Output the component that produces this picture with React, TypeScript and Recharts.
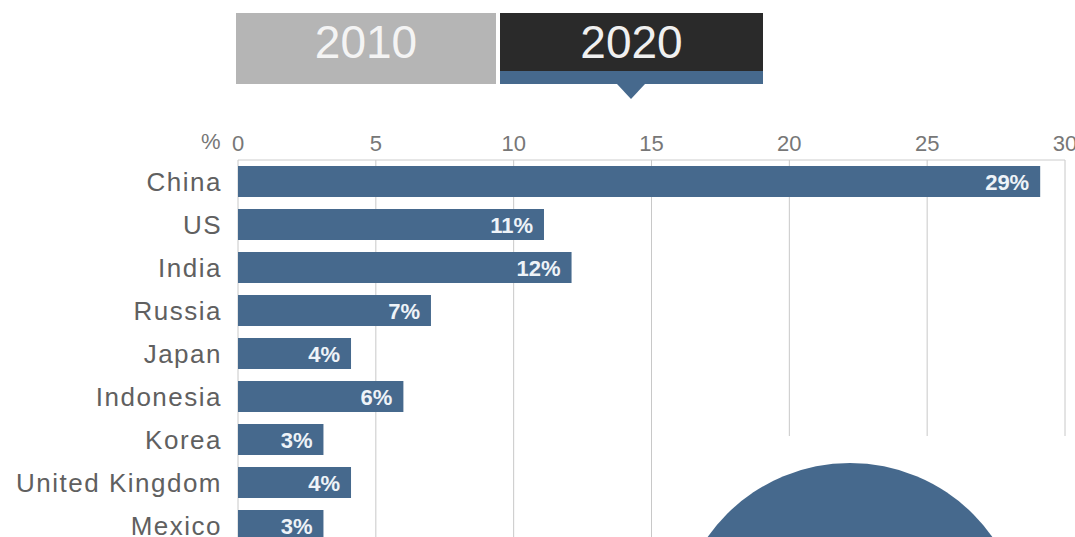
import React from "react";
import { BarChart, Bar, XAxis, YAxis, CartesianGrid, LabelList } from "recharts";

const countries = ["China", "US", "India", "Russia", "Japan", "Indonesia", "Korea", "United Kingdom", "Mexico"];
// bar lengths (%)
const shares = [29.1, 11.1, 12.1, 7.0, 4.1, 6.0, 3.1, 4.1, 3.1];
const shareLabels = ["29%", "11%", "12%", "7%", "4%", "6%", "3%", "4%", "3%"];
const xTicks = [0, 5, 10, 15, 20, 25, 30];
const years = ["2010", "2020"];

const BLUE = "#46698d";
const FONT = "'Liberation Sans', Arial, sans-serif";

const data = countries.map((country, i) => ({
  country,
  share: shares[i],
  label: shareLabels[i],
}));

const BarLabel = (props: any) => {
  const { x, y, width, height, value } = props;
  return (
    <text
      x={x + width - 11}
      y={y + height / 2 + 1}
      textAnchor="end"
      dominantBaseline="central"
      fill="#eef3f8"
      fontSize={22}
      fontWeight="bold"
      fontFamily={FONT}
    >
      {value}
    </text>
  );
};

const App = () => {
  return (
    <div
      style={{
        position: "absolute",
        left: 0,
        top: 0,
        width: 1075,
        height: 537,
        overflow: "hidden",
        background: "#fff",
        fontFamily: FONT,
      }}
    >
      {/* year tabs */}
      <div
        style={{
          position: "absolute", left: 236, top: 13, width: 260, height: 58, paddingBottom: 13,
          background: "#b5b5b5", color: "#f4f4f4", fontSize: 46,
          display: "flex", alignItems: "center", justifyContent: "center",
        }}
      >
        {years[0]}
      </div>
      <div
        style={{
          position: "absolute", left: 500, top: 13, width: 263, height: 58,
          background: "#2a2a2a", color: "#f0f0f0", fontSize: 46,
          display: "flex", alignItems: "center", justifyContent: "center",
        }}
      >
        {years[1]}
      </div>
      <div style={{ position: "absolute", left: 500, top: 71, width: 263, height: 13, background: BLUE }} />
      <div
        style={{
          position: "absolute", left: 617, top: 84, width: 0, height: 0,
          borderLeft: "14px solid transparent", borderRight: "14px solid transparent",
          borderTop: `15px solid ${BLUE}`,
        }}
      />

      <BarChart
        width={1075}
        height={547}
        data={data}
        layout="vertical"
        margin={{ top: 130, right: 10, left: 0, bottom: 0 }}
        barSize={31}
      >
        <CartesianGrid horizontal={false} stroke="#c8c8c8" />
        <XAxis
          type="number"
          orientation="top"
          domain={[0, 30]}
          ticks={xTicks}
          interval={0}
          height={30}
          axisLine={{ stroke: "#cccccc" }}
          tickLine={false}
          tickMargin={3}
          tick={{ fontSize: 22, fill: "#777", fontFamily: FONT }}
        />
        <YAxis
          type="category"
          dataKey="country"
          width={238}
          axisLine={false}
          tickLine={false}
          tickMargin={10}
          tick={{ fontSize: 26, fill: "#606060", fontFamily: FONT, letterSpacing: 1.5 }}
        />
        <Bar dataKey="share" fill={BLUE} isAnimationActive={false}>
          <LabelList dataKey="label" content={<BarLabel />} />
        </Bar>
      </BarChart>

      <div style={{ position: "absolute", left: 201, top: 129, fontSize: 22, color: "#777" }}>%</div>

      {/* big bubble at the bottom right */}
      <div style={{ position: "absolute", left: 670, top: 436, width: 405, height: 101, background: "#fff" }} />
      <div
        style={{
          position: "absolute", left: 850 - 174, top: 463, width: 348, height: 348,
          borderRadius: "50%", background: BLUE,
        }}
      />
    </div>
  );
};

export default App;
